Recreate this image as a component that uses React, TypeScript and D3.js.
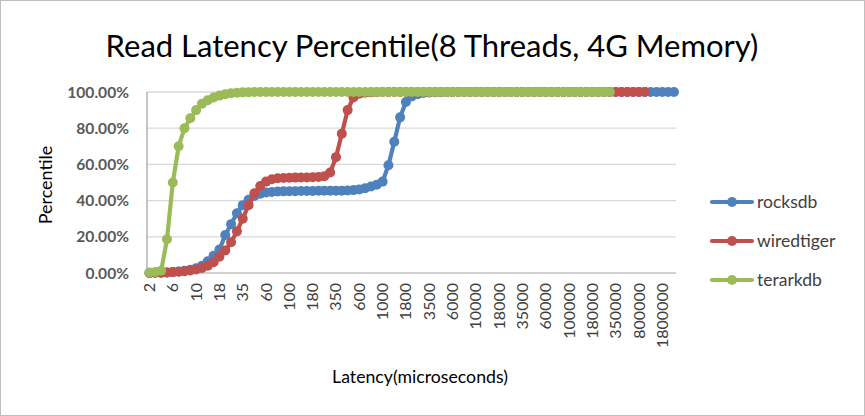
import * as d3 from "d3";

const categories = [
  "2", "3", "4", "5", "6", "7", "8", "9", "10", "12",
  "14", "16", "18", "20", "25", "30", "35", "40", "45", "50",
  "60", "70", "80", "90", "100", "120", "140", "160", "180", "200",
  "250", "300", "350", "400", "450", "500", "600", "700", "800", "900",
  "1000", "1200", "1400", "1600", "1800", "2000", "2500", "3000", "3500", "4000",
  "4500", "5000", "6000", "7000", "8000", "9000", "10000", "12000", "14000", "16000",
  "18000", "20000", "25000", "30000", "35000", "40000", "45000", "50000", "60000", "70000",
  "80000", "90000", "100000", "120000", "140000", "160000", "180000", "200000", "250000", "300000",
  "350000", "450000", "500000", "700000", "800000", "900000", "1200000", "1600000", "1800000", "2000000",
  "2500000",
];

const rocksdb = [
  0.0, 0.1, 0.2, 0.3, 0.5, 0.8, 1.2, 1.8, 2.6, 4.0,
  6.5, 9.5, 13.0, 21.0, 27.0, 33.0, 37.5, 40.5, 42.5, 43.8,
  44.5, 44.8, 45.0, 45.1, 45.2, 45.2, 45.3, 45.3, 45.3, 45.4,
  45.4, 45.4, 45.5, 45.5, 45.6, 45.8, 46.2, 46.8, 47.8, 48.8,
  50.5, 59.5, 72.5, 86.0, 94.5, 97.5, 98.8, 99.4, 99.7, 99.85,
  99.9, 99.95, 100, 100, 100, 100, 100, 100, 100, 100,
  100, 100, 100, 100, 100, 100, 100, 100, 100, 100,
  100, 100, 100, 100, 100, 100, 100, 100, 100, 100,
  100, 100, 100, 100, 100, 100, 100, 100, 100, 100,
  100,
];

const wiredtiger = [
  0.0, 0.1, 0.2, 0.3, 0.5, 0.7, 1.0, 1.4, 2.0, 2.8,
  4.0, 6.0, 9.0, 12.5, 17.0, 23.0, 30.0, 37.5, 44.0, 48.0,
  50.5, 51.8, 52.3, 52.5, 52.6, 52.7, 52.8, 52.8, 52.9, 53.0,
  53.5, 55.5, 64.0, 77.0, 90.0, 97.0, 99.0, 99.6, 99.8, 99.9,
  100, 100, 100, 100, 100, 100, 100, 100, 100, 100,
  100, 100, 100, 100, 100, 100, 100, 100, 100, 100,
  100, 100, 100, 100, 100, 100, 100, 100, 100, 100,
  100, 100, 100, 100, 100, 100, 100, 100, 100, 100,
  100, 100, 100, 100, 100, 100,
];

const terarkdb = [
  0.3, 0.6, 1.2, 18.6, 50.0, 70.0, 80.0, 85.5, 90.0, 93.5,
  95.5, 97.0, 98.0, 98.8, 99.3, 99.6, 99.8, 99.9, 100, 100,
  100, 100, 100, 100, 100, 100, 100, 100, 100, 100,
  100, 100, 100, 100, 100, 100, 100, 100, 100, 100,
  100, 100, 100, 100, 100, 100, 100, 100, 100, 100,
  100, 100, 100, 100, 100, 100, 100, 100, 100, 100,
  100, 100, 100, 100, 100, 100, 100, 100, 100, 100,
  100, 100, 100, 100, 100, 100, 100, 100, 100, 100,
];

const yTicks = [0, 20, 40, 60, 80, 100];

const series = [
  { name: "rocksdb", values: rocksdb, color: "#4F81BD" },
  { name: "wiredtiger", values: wiredtiger, color: "#C0504D" },
  { name: "terarkdb", values: terarkdb, color: "#9BBB59" },
];

const W = 865;
const H = 416;
const FONT = "Lato, 'Open Sans', sans-serif";

export default function App() {
  // plot area
  const left = 147;
  const right = 676;
  const top = 92;
  const bottom = 273;

  const x = d3.scalePoint<string>().domain(categories).range([149.5, 674]);
  const y = d3.scaleLinear().domain([0, 100]).range([bottom, top]);
  const fmt = d3.format(".2%");

  const line = d3
    .line<number>()
    .x((_, i) => x(categories[i])!)
    .y((d) => y(d));

  // every 4th category gets a label, like Excel does
  const labelCats = categories.filter((_, i) => i % 4 === 0);

  return (
    <svg
      width={W}
      height={H}
      style={{ position: "absolute", left: 0, top: 0, display: "block" }}
      fontFamily={FONT}
    >
      <rect x={0.5} y={0.5} width={W - 1} height={H - 1} fill="#fff" stroke="#BFBFBF" />

      <text x={432} y={57} textAnchor="middle" fontSize={31} fill="#000">
        Read Latency Percentile(8 Threads, 4G Memory)
      </text>

      {/* gridlines */}
      {yTicks.map((t) => (
        <line
          key={t}
          x1={left}
          x2={right}
          y1={y(t)}
          y2={y(t)}
          stroke={t === 0 ? "#BFBFBF" : "#D9D9D9"}
          strokeWidth={1.3}
        />
      ))}
      <line x1={left} x2={left} y1={top} y2={bottom} stroke="#A6A6A6" strokeWidth={1.3} />

      {/* y tick labels */}
      {yTicks.map((t) => (
        <text
          key={t}
          x={129}
          y={y(t)}
          dy="0.36em"
          textAnchor="end"
          fontSize={15.6}
          fontWeight="bold"
          fill="#595959"
        >
          {fmt(t / 100)}
        </text>
      ))}

      {/* x tick labels */}
      {labelCats.map((c) => (
        <text
          key={c}
          transform={`translate(${x(c)! + 5.5},283) rotate(-90)`}
          textAnchor="end"
          fontSize={16}
          fill="#404040"
        >
          {c}
        </text>
      ))}

      <text
        transform="translate(52,185) rotate(-90)"
        textAnchor="middle"
        fontSize={18}
        fill="#000"
      >
        Percentile
      </text>
      <text x={420} y={383} textAnchor="middle" fontSize={17.7} fill="#000">
        Latency(microseconds)
      </text>

      {/* series */}
      {series.map((s) => (
        <g key={s.name}>
          <path
            d={line(s.values) || ""}
            fill="none"
            stroke={s.color}
            strokeWidth={4.2}
            strokeLinejoin="round"
            strokeLinecap="round"
          />
          {s.values.map((v, i) => (
            <circle key={i} cx={x(categories[i])} cy={y(v)} r={5} fill={s.color} />
          ))}
        </g>
      ))}

      {/* legend */}
      {series.map((s, i) => {
        const ly = 202 + i * 39;
        return (
          <g key={s.name}>
            <line
              x1={712}
              x2={752}
              y1={ly}
              y2={ly}
              stroke={s.color}
              strokeWidth={4.2}
              strokeLinecap="round"
            />
            <circle cx={732} cy={ly} r={5} fill={s.color} />
            <text x={757} y={ly} dy="0.36em" fontSize={17.5} fill="#404040">
              {s.name}
            </text>
          </g>
        );
      })}
    </svg>
  );
}
